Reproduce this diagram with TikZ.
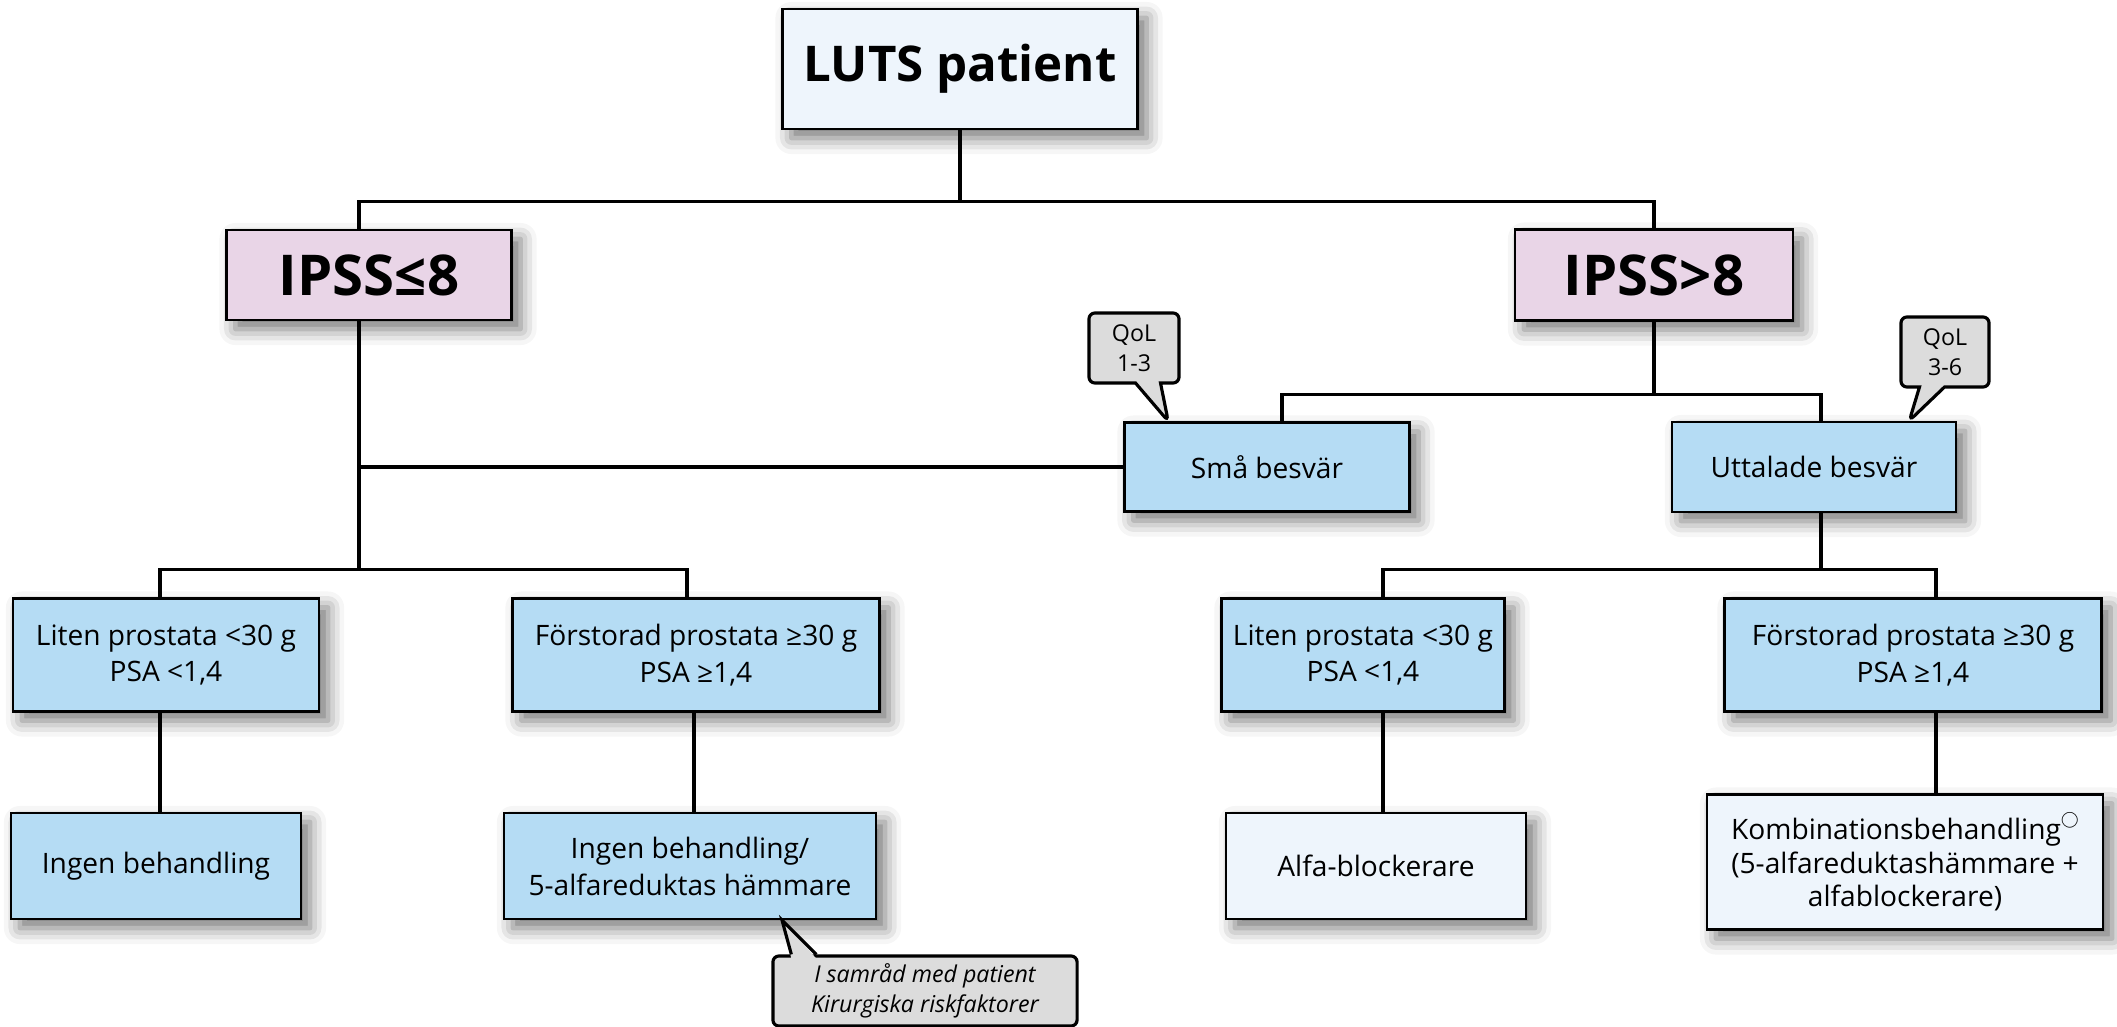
\documentclass[tikz,border=0pt]{standalone}
\usepackage{fontspec}
\setmainfont{Open Sans}
\usetikzlibrary{shapes.callouts,shadows.blur}

\definecolor{boxblue}{HTML}{B5DCF4}
\definecolor{boxpale}{HTML}{EEF5FC}
\definecolor{boxpink}{HTML}{E9D5E7}
\definecolor{notegray}{HTML}{DCDCDC}

\tikzset{
	box/.style={draw, line width=0.7pt, fill=boxblue, align=center, inner sep=0pt,
		font=\fontsize{8}{10.5}\selectfont,
		blur shadow={shadow xshift=0.09cm, shadow yshift=-0.09cm, shadow blur radius=0.16cm, shadow opacity=55}},
	palebox/.style={box, fill=boxpale},
	ipssbox/.style={box, fill=boxpink, font=\fontsize{16}{19}\selectfont\bfseries},
	note/.style={rectangle callout, draw, line width=0.9pt, fill=notegray, rounded corners=0.06cm,
		align=center, inner sep=0pt, callout pointer width=0.25cm,
		font=\fontsize{6.6}{8.6}\selectfont},
	notebox/.style={draw, line width=0.9pt, fill=notegray, rounded corners=0.06cm,
		align=center, inner sep=0pt, font=\fontsize{6.6}{8.6}\selectfont\itshape},
	link/.style={line width=0.9pt},
}

\begin{document}
\begin{tikzpicture}[x=0.01cm, y=-0.01cm]
			\useasboundingbox (0,0) rectangle (2117,1027);
			%%%%% START %%%%%
			
			\node[palebox, minimum width=3.55cm, minimum height=1.2cm, font=\fontsize{14}{16}\selectfont\bfseries] (luts) at (960,69) {LUTS patient};
			
			\node[ipssbox, minimum width=2.85cm, minimum height=0.9cm] (ipssle) at (369,275) {IPSS≤8};
			\node[ipssbox, minimum width=2.78cm, minimum height=0.91cm] (ipssgt) at (1654,275) {IPSS>8};
			
			\node[box, minimum width=2.85cm, minimum height=0.89cm] (sma) at (1267,467) {Små besvär};
			\node[box, minimum width=2.84cm, minimum height=0.9cm] (utt) at (1814,467) {Uttalade besvär};
			
			\node[box, minimum width=3.06cm, minimum height=1.13cm] (litenA) at (166,655) {Liten prostata <30 g\\PSA <1,4};
			\node[box, minimum width=3.67cm, minimum height=1.13cm] (storA) at (696,655) {Förstorad prostata ≥30 g\\PSA ≥1,4};
			\node[box, minimum width=2.83cm, minimum height=1.13cm] (litenB) at (1363,655) {Liten prostata <30 g\\PSA <1,4};
			\node[box, minimum width=3.77cm, minimum height=1.13cm] (storB) at (1913,655) {Förstorad prostata ≥30 g\\PSA ≥1,4};
			
			\node[box, minimum width=2.9cm, minimum height=1.06cm] (ingen) at (156,866) {Ingen behandling};
			\node[box, minimum width=3.72cm, minimum height=1.06cm] (ingenfem) at (690,866) {Ingen behandling/\\5-alfareduktas hämmare};
			\node[palebox, minimum width=3.0cm, minimum height=1.06cm] (alfa) at (1376,866) {Alfa-blockerare};
			\node[palebox, minimum width=3.96cm, minimum height=1.35cm, font=\fontsize{8}{9.6}\selectfont] (kombi) at (1905,862) {Kombinationsbehandling\raisebox{1ex}{\scalebox{0.6}{$\bigcirc$}}\\(5-alfareduktashämmare +\\alfablockerare)};
			
			% connectors
			\draw[link] (luts.south) -- ++(0,71) coordinate (topbus);
			\draw[link] ([xshift=-0.1cm]ipssle.north) |- (topbus) -| (ipssgt.north);
			\draw[link] ([xshift=-0.1cm]ipssle.south) |- (sma.west);
			\draw[link] ([xshift=-0.1cm]ipssle.south) -- ++(0,248) coordinate (lowbusA);
			\draw[link] ([xshift=-0.06cm]litenA.north) |- (lowbusA) -| ([xshift=-0.09cm]storA.north);
			\draw[link] (ipssgt.south) -- ++(0,73) coordinate (midbus);
			\draw[link] ([xshift=0.15cm]sma.north) |- (midbus) -| ([xshift=0.07cm]utt.north);
			\draw[link] ([xshift=0.07cm]utt.south) -- ++(0,56) coordinate (lowbusB);
			\draw[link] ([xshift=0.2cm]litenB.north) |- (lowbusB) -| ([xshift=0.23cm]storB.north);
			\draw[link] ([xshift=-0.06cm]litenA.south) -- ([xshift=-0.06cm]litenA.south |- ingen.north);
			\draw[link] ([xshift=-0.02cm]storA.south) -- ([xshift=-0.02cm]storA.south |- ingenfem.north);
			\draw[link] ([xshift=0.2cm]litenB.south) -- ([xshift=0.2cm]litenB.south |- alfa.north);
			\draw[link] ([xshift=0.23cm]storB.south) -- ([xshift=0.23cm]storB.south |- kombi.north);
			
			% callouts
			\node[note, minimum width=0.9cm, minimum height=0.7cm, callout absolute pointer={([xshift=0.45cm]sma.north west)}] (qolA) at (1134,348) {QoL\\1-3};
			\node[note, minimum width=0.88cm, minimum height=0.7cm, callout absolute pointer={([xshift=-0.48cm]utt.north east)}] (qolB) at (1945,352) {QoL\\3-6};
			\node[notebox, minimum width=3.04cm, minimum height=0.7cm] (samrad) at (925,991) {I samråd med patient\\Kirurgiska riskfaktorer};
			\coordinate (samradpin) at ([xshift=0.92cm]ingenfem.south);
			\fill[notegray] ([xshift=0.2cm,yshift=-1.2pt]samrad.north west) -- (samradpin) -- ([xshift=0.45cm,yshift=-1.2pt]samrad.north west) -- cycle;
			\draw[line width=0.9pt, line join=miter] ([xshift=0.2cm]samrad.north west) -- (samradpin) -- ([xshift=0.45cm]samrad.north west);
			
			%%%%% END %%%%%
\end{tikzpicture}
\end{document}
